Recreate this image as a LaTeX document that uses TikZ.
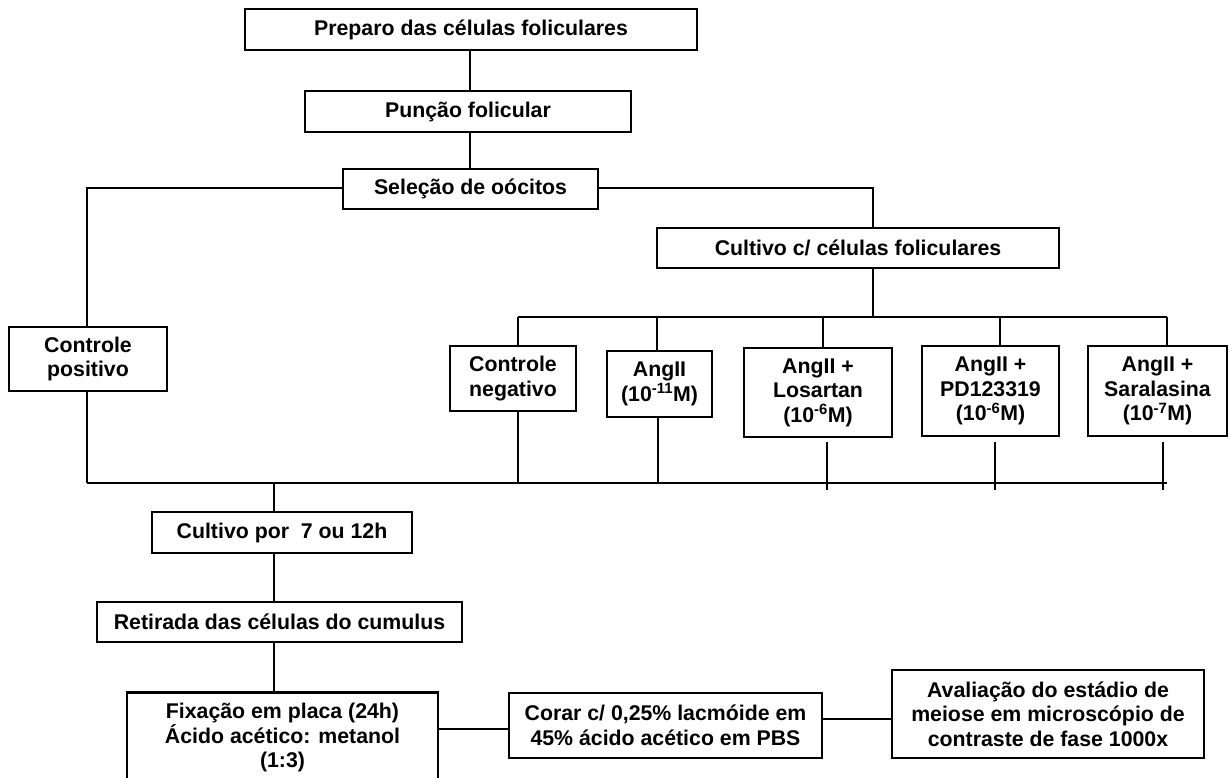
\documentclass[tikz,border=0pt]{standalone}
\usepackage{fontspec}
\setmainfont{Liberation Sans}
\begin{document}
\begin{tikzpicture}[x=1pt,y=-1pt,
  box/.style={draw, line width=2.6pt, fill=white, align=center, inner sep=0pt,
    font=\bfseries\fontsize{21.3}{24.5}\selectfont},
  conn/.style={line width=1.8pt},
  bus/.style={line width=2.4pt}]
\useasboundingbox (0,0) rectangle (1230,778);

% boxes
\node[box, minimum width=452pt, minimum height=41pt] (prep) at (471,29.5) {Preparo das células foliculares};
\node[box, minimum width=326pt, minimum height=41pt] (punc) at (468,111.5) {Punção folicular};
\node[box, minimum width=255pt, minimum height=40pt] (sel) at (470.5,189) {Seleção de oócitos};
\node[box, minimum width=402pt, minimum height=40pt] (cultc) at (858,248) {Cultivo c/ células foliculares};
\node[box, minimum width=158pt, minimum height=64pt] (cpos) at (88,359) {Controle\\positivo};
\node[box, minimum width=126pt, minimum height=65pt] (cneg) at (513,378.5) {Controle\\negativo};
\node[box, minimum width=105pt, minimum height=66pt] (ang) at (659.5,384) {AngII\\(10\textsuperscript{-11}M)};
\node[box, minimum width=148pt, minimum height=89pt] (los) at (818,392.5) {AngII +\\Losartan\\(10\textsuperscript{-6}M)};
\node[box, minimum width=137pt, minimum height=90pt] (pd) at (990.5,391) {AngII +\\PD123319\\(10\textsuperscript{-6}M)};
\node[box, minimum width=139pt, minimum height=90pt] (sar) at (1157.5,391) {AngII +\\Saralasina\\(10\textsuperscript{-7}M)};
\node[box, minimum width=260pt, minimum height=41pt] (cpor) at (282,532.5) {Cultivo por\ \ 7 ou 12h};
\node[box, minimum width=365pt, minimum height=40pt] (ret) at (279.5,622) {Retirada das células do cumulus};
\node[box, minimum width=311pt, minimum height=99pt, anchor=north] (fix) at (282.5,691) {};
\node[font=\bfseries\fontsize{21.3}{24.5}\selectfont, align=center, anchor=north, inner sep=0pt] (fixt) at (282.5,703) {Fixação em placa (24h)\\Ácido acético: metanol\\(1:3)};
\node[box, minimum width=313pt, minimum height=65pt] (cor) at (665.5,725.5) {Corar c/ 0,25\% lacmóide em\\45\% ácido acético em PBS};
\node[box, minimum width=312pt, minimum height=88pt] (ava) at (1048,714) {Avaliação do estádio de\\meiose em microscópio de\\contraste de fase 1000x};

% reference coordinates
\coordinate (xa) at (470,0);
\coordinate (xl) at (87,188);
\coordinate (xr) at (873,188);
\coordinate (tb) at (873,317);
\coordinate (tbl) at (518,317);
\coordinate (tbr) at (1167,317);
\coordinate (bbl) at (87,483);
\coordinate (bbr) at (1167,483);
\coordinate (bm) at (274,483);
\coordinate (d1) at (658,0);
\coordinate (t2) at (657,317);
\coordinate (t3) at (823,317);
\coordinate (t4) at (1000,317);
\coordinate (l1) at (827,442);
\coordinate (l2) at (827,490);
\coordinate (p1) at (995,442);
\coordinate (p2) at (995,490);
\coordinate (s1) at (1163,442);
\coordinate (s2) at (1163,490);

% connectors
\draw[conn] (prep.south -| xa) -- (punc.north -| xa);
\draw[conn] (punc.south -| xa) -- (sel.north -| xa);
\draw[conn] (sel.west |- xl) -- (xl) -- (cpos.north -| xl);
\draw[conn] (sel.east |- xr) -- (xr) -- (cultc.north -| xr);
\draw[conn] (cultc.south -| xr) -- (tb);
\draw[bus] (tbl) -- (tbr);
\draw[conn] (tbl) -- (cneg.north -| tbl);
\draw[conn] (t2) -- (ang.north -| t2);
\draw[conn] (t3) -- (los.north -| t3);
\draw[conn] (t4) -- (pd.north -| t4);
\draw[conn] (tbr) -- (sar.north -| tbr);
\draw[bus] (bbl) -- (bbr);
\draw[conn] (cpos.south -| bbl) -- (bbl);
\draw[conn] (cneg.south -| tbl) -- (tbl |- bbl);
\draw[conn] (ang.south -| d1) -- (d1 |- bbl);
\draw[conn] (l1) -- (l2);
\draw[conn] (p1) -- (p2);
\draw[conn] (s1) -- (s2);
\draw[conn] (bm) -- (cpor.north -| bm);
\draw[conn] (cpor.south -| bm) -- (ret.north -| bm);
\draw[conn] (ret.south -| bm) -- (fix.north -| bm);
\draw[conn] (fix.east |- 0,729) -- (cor.west |- 0,729);
\draw[conn] (cor.east |- 0,719) -- (ava.west |- 0,719);
\end{tikzpicture}
\end{document}
